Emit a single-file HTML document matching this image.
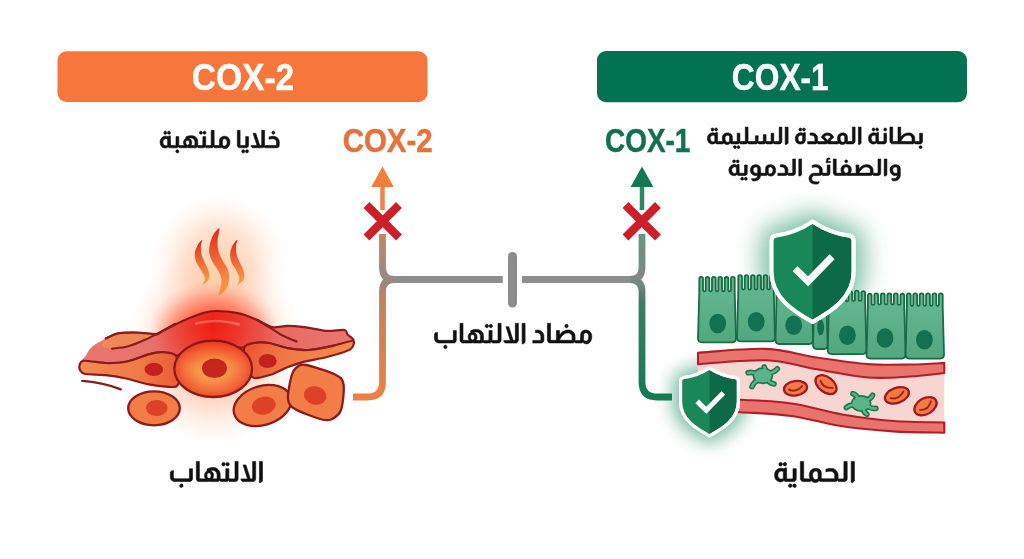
<!DOCTYPE html>
<html><head><meta charset="utf-8"><style>
html,body{margin:0;padding:0;background:#fff;}
body{width:1024px;height:559px;overflow:hidden;}
svg{display:block;}
text{font-family:"Liberation Sans",sans-serif;font-weight:bold;}
</style></head><body>
<svg width="1024" height="559" viewBox="0 0 1024 559">
<defs>
  <filter id="blur1" x="-60%" y="-60%" width="220%" height="220%"><feGaussianBlur stdDeviation="11"/></filter>
  <filter id="blur2" x="-60%" y="-60%" width="220%" height="220%"><feGaussianBlur stdDeviation="8"/></filter>
  <radialGradient id="gGlowBig" cx="0.5" cy="0.5" r="0.5">
    <stop offset="0" stop-color="#ff6a3a" stop-opacity="0.8"/>
    <stop offset="0.45" stop-color="#ff9060" stop-opacity="0.5"/>
    <stop offset="0.75" stop-color="#ffb890" stop-opacity="0.25"/>
    <stop offset="1" stop-color="#ffd8c0" stop-opacity="0"/>
  </radialGradient>
  <radialGradient id="gGlowFlame" cx="0.5" cy="0.5" r="0.5">
    <stop offset="0" stop-color="#ffcf9a" stop-opacity="0.85"/>
    <stop offset="0.5" stop-color="#ffc4a0" stop-opacity="0.5"/>
    <stop offset="1" stop-color="#ffe2d2" stop-opacity="0"/>
  </radialGradient>
  <radialGradient id="gGlowCore" cx="0.5" cy="0.5" r="0.5">
    <stop offset="0" stop-color="#ff2a12" stop-opacity="0.9"/>
    <stop offset="0.5" stop-color="#ff5a36" stop-opacity="0.5"/>
    <stop offset="1" stop-color="#ff8a60" stop-opacity="0"/>
  </radialGradient>
  <radialGradient id="gRedOver" cx="0.5" cy="0.5" r="0.5">
    <stop offset="0" stop-color="#ff2a10" stop-opacity="0.55"/>
    <stop offset="1" stop-color="#ff2a10" stop-opacity="0"/>
  </radialGradient>
  <linearGradient id="gFlame" x1="0" y1="0" x2="0" y2="1">
    <stop offset="0" stop-color="#e3261e"/>
    <stop offset="0.5" stop-color="#f06a3a"/>
    <stop offset="1" stop-color="#f9a84c"/>
  </linearGradient>
  <linearGradient id="gSheet" x1="83" y1="0" x2="353" y2="0" gradientUnits="userSpaceOnUse">
    <stop offset="0" stop-color="#e8756e"/>
    <stop offset="0.25" stop-color="#e8736c"/>
    <stop offset="0.48" stop-color="#f0382a"/>
    <stop offset="0.72" stop-color="#e86a63"/>
    <stop offset="1" stop-color="#e8776f"/>
  </linearGradient>
  <linearGradient id="gElongL" x1="80" y1="0" x2="180" y2="0" gradientUnits="userSpaceOnUse">
    <stop offset="0" stop-color="#f58a52"/>
    <stop offset="0.6" stop-color="#f07a46"/>
    <stop offset="1" stop-color="#ec5a36"/>
  </linearGradient>
  <linearGradient id="gElongR" x1="245" y1="0" x2="353" y2="0" gradientUnits="userSpaceOnUse">
    <stop offset="0" stop-color="#ee5a38"/>
    <stop offset="0.4" stop-color="#f07a46"/>
    <stop offset="1" stop-color="#f5884f"/>
  </linearGradient>
  <radialGradient id="gBigCell" cx="0.5" cy="0.5" r="0.5">
    <stop offset="0" stop-color="#fbb04e"/>
    <stop offset="0.45" stop-color="#f89048"/>
    <stop offset="0.8" stop-color="#f2683a"/>
    <stop offset="1" stop-color="#ec4a2c"/>
  </radialGradient>
  <linearGradient id="gCell" x1="0" y1="0" x2="0" y2="1">
    <stop offset="0" stop-color="#66ba93"/>
    <stop offset="1" stop-color="#52a77f"/>
  </linearGradient>
  <radialGradient id="gGreenGlow" cx="0.5" cy="0.5" r="0.5">
    <stop offset="0" stop-color="#4fae84" stop-opacity="0.9"/>
    <stop offset="0.5" stop-color="#8fcbb0" stop-opacity="0.55"/>
    <stop offset="0.8" stop-color="#c9e6d8" stop-opacity="0.25"/>
    <stop offset="1" stop-color="#e6f4ee" stop-opacity="0"/>
  </radialGradient>
  <linearGradient id="gLineL" x1="0" y1="234" x2="0" y2="397" gradientUnits="userSpaceOnUse">
    <stop offset="0" stop-color="#c0866a"/>
    <stop offset="0.276" stop-color="#968a86"/>
    <stop offset="0.42" stop-color="#c4815f"/>
    <stop offset="1" stop-color="#ef7f45"/>
  </linearGradient>
  <linearGradient id="gLineR" x1="0" y1="234" x2="0" y2="397" gradientUnits="userSpaceOnUse">
    <stop offset="0" stop-color="#6a9581"/>
    <stop offset="0.276" stop-color="#808985"/>
    <stop offset="0.42" stop-color="#3f7d63"/>
    <stop offset="1" stop-color="#137a52"/>
  </linearGradient>
</defs>

<!-- headers -->
<rect x="57.5" y="51.3" width="370" height="50.7" rx="9" fill="#f7763c"/>
<text x="243" y="89.5" font-size="37.2" fill="#ffffff" stroke="#ffffff" stroke-width="0.4" text-anchor="middle" textLength="102.6" lengthAdjust="spacingAndGlyphs">COX-2</text>
<rect x="597" y="51" width="370" height="51.2" rx="9" fill="#037252"/>
<text x="780.3" y="89.5" font-size="37.2" fill="#ffffff" stroke="#ffffff" stroke-width="0.4" text-anchor="middle" textLength="96.9" lengthAdjust="spacingAndGlyphs">COX-1</text>

<!-- sub labels -->
<text x="387.7" y="151.8" font-size="32.5" fill="#e8703a" stroke="#e8703a" stroke-width="0.45" text-anchor="middle" textLength="90" lengthAdjust="spacingAndGlyphs">COX-2</text>
<text x="647.7" y="151.8" font-size="32.5" fill="#12704f" stroke="#12704f" stroke-width="0.45" text-anchor="middle" textLength="85.4" lengthAdjust="spacingAndGlyphs">COX-1</text>

<!-- arabic labels -->
<g fill="#111111" stroke="#111111" stroke-width="0.6" stroke-linejoin="round">
<path role="img" aria-label="خلايا ملتهبة" d="M246.6 149.8L245.7 150.4L245.5 150.8L245.5 151.9L246.3 152.8L247.3 152.9L248.2 152.3L248.5 151.3L248.4 150.8L247.8 150.0L247.4 149.8ZM242.8 149.8L241.9 150.5L241.7 151.7L241.9 152.2L242.4 152.7L243.5 152.9L244.1 152.7L244.6 152.2L244.8 151.8L244.8 150.9L244.3 150.1L243.7 149.8ZM176.9 149.8L176.0 150.5L175.8 151.2L175.9 151.9L176.5 152.7L177.7 152.9L178.4 152.5L178.7 152.1L178.8 150.9L178.2 150.0L177.7 149.8ZM273.0 131.2L272.1 131.8L271.9 132.2L271.9 133.2L272.5 134.1L273.7 134.3L274.3 134.0L274.7 133.4L274.8 132.2L274.3 131.5L273.7 131.2ZM204.2 131.2L203.7 131.4L203.2 131.9L203.0 132.3L203.0 133.1L203.7 134.1L204.1 134.3L204.8 134.3L205.3 134.1L205.8 133.5L206.0 132.4L205.8 131.9L205.3 131.4ZM200.5 131.2L200.0 131.4L199.5 131.9L199.3 133.0L200.0 134.1L201.2 134.3L201.8 134.0L202.2 133.4L202.3 132.2L201.8 131.5L201.2 131.2ZM168.6 131.2L167.7 131.8L167.4 132.7L167.5 133.2L168.1 134.1L169.3 134.3L169.9 134.0L170.3 133.4L170.4 132.2L169.9 131.5L169.3 131.2ZM164.9 131.2L164.3 131.5L163.9 132.0L163.8 133.1L164.1 133.8L164.6 134.2L165.6 134.3L166.1 134.1L166.6 133.5L166.8 132.4L166.6 131.9L166.1 131.4ZM253.0 133.3L257.0 145.4L251.1 145.5L251.2 146.5L252.3 147.8L262.3 147.8L263.4 147.4L264.1 146.8L264.9 147.8L277.1 147.8L278.2 147.4L278.9 146.7L279.2 146.1L279.3 141.4L278.8 139.6L277.9 138.3L277.0 137.5L275.7 136.7L274.1 136.3L272.0 136.3L269.1 136.9L269.0 139.3L271.6 138.8L273.2 138.8L274.3 139.1L275.2 139.6L276.1 140.6L276.5 141.9L276.5 145.0L276.2 145.4L264.7 145.5L264.5 145.3L264.6 130.3L261.7 130.3L261.7 145.1L261.0 145.5L259.9 145.5L259.6 145.1L255.8 133.3ZM237.3 130.3L237.3 145.6L237.5 146.3L238.2 147.2L239.4 147.8L246.4 147.8L247.4 147.4L248.2 146.5L248.5 145.6L248.5 136.6L245.7 136.6L245.7 145.0L245.0 145.5L240.5 145.4L240.1 144.9L240.1 130.3ZM229.9 141.0L229.2 138.9L228.8 138.3L227.4 137.0L225.2 136.3L223.6 136.3L222.7 136.5L220.8 137.6L220.0 138.7L219.5 140.2L219.5 145.0L218.8 145.5L214.2 145.5L214.1 130.3L211.2 130.3L211.2 145.1L210.5 145.5L205.7 145.4L205.7 136.6L202.9 136.6L202.8 145.0L202.1 145.5L198.0 145.5L197.8 145.3L197.8 141.2L197.5 139.8L196.9 138.5L196.4 137.8L195.0 136.6L194.0 136.1L192.3 135.7L189.9 135.7L188.6 135.9L185.9 136.8L185.9 138.5L184.3 139.8L183.5 141.5L183.5 143.6L184.3 145.3L184.2 145.5L179.0 145.5L178.8 145.3L178.8 136.6L176.0 136.6L176.0 144.9L175.6 145.4L171.1 145.5L170.5 145.1L170.4 135.9L169.1 135.9L168.0 136.7L166.4 136.2L164.7 136.2L162.9 136.8L161.3 138.3L160.5 139.7L160.1 141.6L160.1 142.8L160.6 145.0L161.4 146.3L162.7 147.4L163.6 147.8L164.7 148.1L166.6 147.8L168.2 146.9L168.8 147.4L169.7 147.8L176.8 147.8L177.4 147.6L178.3 146.8L179.3 147.8L186.6 147.8L187.6 147.5L188.6 147.8L195.7 147.8L196.6 147.5L197.4 146.8L198.2 147.8L203.6 147.8L204.6 147.4L205.2 146.8L206.1 147.8L212.0 147.8L212.8 147.5L213.6 146.8L214.5 147.8L220.3 147.8L221.3 147.4L221.7 147.0L222.6 148.0L223.4 148.4L225.5 148.6L226.9 148.2L227.7 147.6L229.0 146.1L229.8 144.0ZM187.1 140.2L188.1 140.2L188.5 140.4L189.0 141.0L189.4 142.0L189.4 143.2L189.1 144.1L188.6 144.8L187.7 145.2L186.9 145.0L186.2 144.2L185.8 143.2L185.8 142.0L186.0 141.3L186.7 140.4ZM224.1 138.7L225.2 138.8L225.8 139.1L226.7 140.1L227.1 141.5L227.1 143.3L226.8 144.5L225.7 145.8L225.0 146.1L223.6 146.0L222.4 145.1L222.5 140.1L223.2 139.1ZM165.4 138.7L166.4 138.7L167.6 139.1L167.6 145.3L166.3 145.7L165.2 145.7L164.1 145.2L163.2 143.9L162.9 142.6L163.0 141.3L163.3 140.3L164.4 139.1ZM188.5 138.2L189.4 138.0L191.8 138.1L193.1 138.6L194.0 139.4L194.5 140.2L194.9 141.8L194.9 145.0L194.7 145.3L194.2 145.5L191.0 145.4L191.7 143.4L191.7 141.7L191.5 140.9L190.9 139.7L190.4 139.2L189.2 138.5L188.5 138.4Z"/>
<path role="img" aria-label="بطانة المعدة السليمة" d="M920.1 145.7L919.4 146.1L919.1 146.6L919.1 147.8L919.7 148.4L920.9 148.6L921.8 148.0L922.0 147.6L922.0 146.8L921.4 145.9L920.9 145.7ZM738.1 145.7L737.2 146.4L737.0 147.1L737.1 147.7L737.7 148.4L738.8 148.6L739.5 148.2L739.8 147.9L739.9 146.8L739.3 145.9L738.8 145.7ZM734.5 145.7L733.7 146.3L733.5 146.7L733.5 147.7L734.3 148.5L735.2 148.6L735.7 148.4L736.2 148.0L736.4 147.0L736.2 146.4L735.7 145.9L735.3 145.7ZM868.8 136.1L868.5 137.9L868.5 139.1L868.9 141.1L869.4 142.0L870.3 143.0L871.9 143.9L872.9 144.0L874.4 143.9L875.1 143.8L876.4 143.0L876.9 143.5L877.8 143.9L884.5 143.9L885.5 143.5L886.4 142.4L886.6 141.8L886.6 133.2L883.9 133.2L883.9 141.1L883.2 141.6L879.2 141.6L878.6 141.2L878.5 132.5L877.2 132.5L876.2 133.3L874.6 132.8L872.9 132.8L871.6 133.2L870.5 133.9L869.6 134.8ZM873.6 135.2L874.6 135.2L875.8 135.5L875.8 141.4L874.5 141.8L873.4 141.8L872.4 141.3L871.5 140.1L871.2 138.9L871.3 137.6L871.6 136.7L872.6 135.5ZM805.3 132.5L804.0 132.5L803.1 133.3L801.4 132.8L800.0 132.8L799.2 133.0L797.7 133.7L796.3 135.1L795.5 137.0L795.3 138.6L795.4 139.8L796.1 141.9L797.1 143.0L798.8 143.9L801.2 144.0L803.2 143.6L804.4 142.6L805.1 141.4L805.4 139.9ZM801.5 135.2L802.6 135.5L802.6 140.3L802.4 140.8L801.7 141.5L800.5 141.8L799.8 141.7L799.1 141.3L798.3 140.2L798.0 138.7L798.2 137.3L798.5 136.6L799.4 135.6L800.4 135.2ZM884.9 128.0L884.4 128.2L884.0 128.7L883.8 129.8L884.0 130.3L884.4 130.8L884.8 131.0L885.5 131.0L886.0 130.8L886.5 130.3L886.7 129.2L886.5 128.7L886.0 128.2ZM876.7 128.0L875.9 128.6L875.6 129.5L875.7 130.0L876.3 130.8L877.4 131.0L878.0 130.7L878.4 130.2L878.5 129.0L878.0 128.3L877.4 128.0ZM873.1 128.0L872.6 128.3L872.2 128.8L872.1 129.9L872.4 130.5L872.8 130.9L873.8 131.0L874.3 130.8L874.8 130.3L875.0 129.2L874.8 128.7L874.3 128.2ZM803.5 128.0L802.7 128.6L802.4 129.5L802.5 130.0L803.1 130.8L804.2 131.0L805.1 130.4L805.4 129.5L805.3 129.0L804.7 128.2ZM800.0 128.0L799.6 128.2L799.1 128.7L798.9 129.1L798.9 129.9L799.6 130.8L799.9 131.0L800.6 131.0L801.1 130.8L801.6 130.3L801.8 129.2L801.6 128.7L801.1 128.2ZM715.7 128.0L714.9 128.6L714.6 129.5L714.7 130.0L715.2 130.8L716.4 131.0L717.0 130.7L717.4 130.2L717.5 129.0L717.0 128.3L716.4 128.0ZM712.1 128.0L711.5 128.3L711.2 128.8L711.1 129.9L711.3 130.5L711.8 130.9L712.8 131.0L713.3 130.8L713.8 130.3L714.0 129.2L713.8 128.7L713.3 128.2ZM889.9 127.1L889.9 141.4L890.3 142.7L891.1 143.5L891.7 143.8L912.8 143.9L913.4 143.7L914.3 142.9L915.1 143.9L920.4 143.9L921.5 143.4L922.3 142.3L922.5 141.2L922.5 133.2L919.6 133.2L919.6 141.2L918.9 141.6L914.9 141.6L914.8 141.4L914.8 137.7L914.2 135.9L912.9 134.4L912.1 133.8L910.6 133.1L909.5 132.9L907.5 132.9L905.2 133.5L902.7 135.1L900.8 137.1L900.7 127.1L898.0 127.1L898.0 141.5L893.1 141.5L892.7 141.2L892.7 127.1ZM912.0 138.3L912.0 141.1L911.7 141.5L900.8 141.5L901.5 139.9L902.9 138.0L904.4 136.5L906.2 135.5L907.5 135.3L908.7 135.3L909.8 135.5L910.7 136.0L911.5 136.9ZM861.1 127.1L858.4 127.1L858.4 144.4L859.7 144.4L861.1 143.3ZM855.1 127.1L852.4 127.1L852.4 141.0L852.0 141.5L847.8 141.5L847.5 141.2L847.4 136.1L846.7 134.6L845.9 133.8L844.8 133.2L843.6 132.9L841.9 132.9L840.7 133.2L839.4 133.9L838.4 134.9L838.0 135.6L837.5 137.2L837.5 139.7L838.0 141.3L837.9 141.6L830.3 141.6L830.2 141.2L830.9 139.8L832.2 138.6L833.4 137.9L833.6 137.0L832.8 135.5L831.3 134.1L829.3 133.1L826.8 132.9L825.0 133.4L823.3 134.4L822.2 135.6L821.4 137.1L821.6 137.8L822.9 138.7L824.1 139.9L824.8 141.1L824.8 141.6L817.8 141.6L817.6 141.4L817.6 137.5L817.2 136.1L816.5 135.0L815.2 133.8L814.3 133.3L812.8 132.9L810.1 133.0L810.1 135.2L811.9 135.2L812.7 135.4L813.7 135.9L814.4 136.7L814.9 138.2L814.9 141.1L814.6 141.5L814.2 141.6L807.6 141.6L807.6 143.9L815.6 143.9L816.5 143.5L817.1 142.9L818.0 143.9L826.5 143.9L826.8 143.8L827.4 143.3L828.5 143.9L838.2 143.9L838.9 143.1L840.2 144.0L841.8 144.5L843.8 144.3L844.7 143.9L845.5 143.1L845.8 143.5L846.8 143.9L853.0 143.9L853.6 143.7L854.7 142.7L855.1 141.6ZM842.2 135.2L843.2 135.2L843.9 135.5L844.7 136.6L844.7 141.3L843.3 142.2L842.1 142.2L841.3 141.7L840.8 141.1L840.2 139.6L840.2 137.6L840.5 136.6L841.4 135.5ZM827.5 135.2L828.7 135.4L829.6 135.7L830.7 137.0L829.9 137.6L828.9 138.6L828.0 139.8L827.5 140.9L826.3 138.8L824.3 137.0L825.5 135.7L826.6 135.3ZM788.1 127.1L785.2 127.1L785.2 144.4L786.6 144.4L788.1 143.3ZM781.9 127.1L779.2 127.1L779.2 141.1L778.5 141.6L774.0 141.6L773.8 141.4L773.8 133.2L771.1 133.2L771.1 141.1L770.6 141.5L766.1 141.5L766.0 134.6L763.3 134.6L763.3 141.0L762.9 141.5L758.3 141.6L758.1 141.4L758.2 135.8L755.4 135.8L755.4 141.2L755.1 141.5L748.1 141.6L748.0 127.1L745.3 127.1L745.3 141.1L744.6 141.6L740.1 141.6L739.9 141.4L739.9 133.2L737.2 133.2L737.2 141.0L736.8 141.5L736.4 141.6L733.2 141.6L732.4 141.3L732.3 136.4L732.0 135.4L731.4 134.4L730.6 133.7L728.4 132.9L726.8 132.9L725.3 133.3L724.0 134.1L723.1 135.1L722.7 136.0L722.3 137.6L722.3 139.4L722.8 141.2L722.7 141.6L718.2 141.6L717.6 141.2L717.5 132.5L716.2 132.5L715.1 133.3L713.6 132.8L711.9 132.8L710.6 133.2L709.9 133.6L708.6 134.8L707.8 136.1L707.4 137.9L707.5 139.8L708.2 141.7L709.3 143.0L710.4 143.7L711.9 144.0L713.8 143.9L715.3 143.0L715.9 143.5L716.8 143.9L723.0 143.9L723.8 143.1L724.3 143.6L725.5 144.2L726.6 144.5L727.8 144.5L729.1 144.1L730.3 143.2L731.6 143.9L738.0 143.9L738.5 143.7L739.4 142.9L740.4 143.9L746.0 143.9L746.6 143.7L747.5 142.9L748.5 143.9L756.2 143.9L757.0 143.6L757.7 142.9L758.5 143.9L764.1 143.9L765.0 143.5L765.5 142.9L766.3 143.9L771.9 143.9L772.5 143.7L773.3 142.9L774.2 143.9L779.8 143.9L780.9 143.4L781.6 142.6L781.9 141.7ZM727.0 135.2L728.0 135.2L728.7 135.5L729.3 136.0L729.6 136.8L729.6 141.2L729.1 141.7L728.1 142.2L726.9 142.2L726.4 141.9L725.6 141.0L725.0 139.3L725.0 137.9L725.4 136.5L726.4 135.5ZM712.6 135.2L713.6 135.2L714.8 135.5L714.8 141.4L713.5 141.8L712.4 141.8L711.3 141.3L710.5 140.1L710.2 138.9L710.3 137.6L710.6 136.7L711.6 135.5Z"/>
<path role="img" aria-label="والصفائح الدموية" d="M745.4 177.3L744.9 177.5L744.4 178.0L744.3 179.1L745.0 180.0L745.4 180.2L746.1 180.2L746.6 180.0L747.1 179.5L747.3 178.5L746.9 177.7L746.2 177.3ZM741.8 177.3L740.9 178.0L740.7 178.6L740.8 179.2L741.4 180.0L742.6 180.2L743.2 179.9L743.6 179.4L743.7 178.3L743.1 177.5L742.6 177.3ZM897.0 164.8L894.3 164.7L892.5 165.4L891.0 166.7L890.4 167.8L890.1 168.8L890.0 170.1L890.2 171.6L890.8 173.0L891.8 174.3L892.8 175.1L894.2 175.5L895.6 175.6L897.0 175.4L897.4 175.5L897.0 176.9L895.6 178.2L893.6 178.7L891.8 178.6L891.8 179.6L892.9 180.9L895.2 180.8L897.5 180.1L899.1 178.7L899.8 177.6L900.1 176.6L900.3 175.1L900.3 168.7L900.1 167.5L899.5 166.3L898.7 165.5ZM894.6 167.0L896.2 167.0L896.6 167.2L897.3 168.0L897.4 173.0L897.2 173.1L896.2 173.3L894.8 173.2L894.0 172.9L893.0 171.6L892.8 170.1L892.9 168.7L893.3 168.0L894.0 167.3ZM830.0 165.0L827.2 165.0L827.2 172.8L826.5 173.2L822.3 173.1L822.3 169.6L822.0 168.3L821.1 166.8L819.3 165.4L817.0 164.7L814.4 164.8L812.2 165.3L812.1 167.5L814.7 167.0L816.1 167.0L817.8 167.5L818.9 168.5L819.3 169.3L819.5 170.3L819.5 172.7L819.3 173.0L818.8 173.2L814.0 173.2L812.9 173.4L811.4 174.0L809.9 175.4L809.1 177.2L809.0 178.9L809.4 180.6L810.3 182.1L811.1 182.9L812.3 183.5L814.5 184.1L817.0 184.1L818.0 183.9L819.1 182.5L819.1 181.5L817.3 181.9L814.8 181.8L813.2 181.2L812.3 180.5L811.9 179.7L811.7 178.5L811.9 177.3L812.2 176.7L813.0 175.9L813.6 175.6L814.5 175.5L820.1 175.5L821.2 175.1L821.8 174.5L822.7 175.5L828.0 175.5L828.9 175.1L829.6 174.4L830.0 173.5ZM750.5 168.9L750.4 170.2L750.6 171.7L751.1 173.0L751.9 174.1L752.8 174.8L754.3 175.4L757.8 175.5L757.2 177.2L756.0 178.2L754.3 178.7L752.6 178.7L751.6 178.5L751.6 179.5L752.8 180.9L755.1 180.9L756.5 180.6L758.1 180.0L759.5 178.6L760.3 177.0L760.6 175.5L766.2 175.5L767.6 174.8L768.6 175.6L769.6 176.0L771.3 176.1L772.5 175.8L773.5 175.3L774.9 173.5L775.5 172.0L775.7 170.5L775.4 168.1L774.6 166.6L773.4 165.5L772.4 165.0L771.0 164.7L769.5 164.7L768.2 165.0L767.0 165.5L766.2 166.3L765.6 167.9L765.5 172.9L764.8 173.2L760.6 173.1L760.6 168.7L760.2 167.0L759.0 165.5L757.4 164.8L754.7 164.7L752.8 165.4L752.2 165.7L751.2 167.0ZM769.9 166.9L771.0 167.0L771.9 167.5L772.4 168.0L772.9 169.3L773.0 170.5L772.7 172.1L771.8 173.3L770.8 173.8L769.4 173.7L768.3 173.0L768.3 168.3L768.5 167.9L769.2 167.2ZM755.0 167.0L756.6 167.0L757.1 167.3L757.7 168.0L757.7 173.2L756.2 173.2L754.8 173.0L753.8 172.2L753.3 171.3L753.1 170.1L753.3 168.7L753.7 168.0L754.4 167.3ZM729.3 167.9L728.9 169.6L728.9 170.7L729.4 172.8L729.9 173.6L730.8 174.6L732.4 175.5L733.5 175.6L735.0 175.5L735.7 175.4L736.9 174.6L737.5 175.1L738.4 175.5L745.3 175.5L746.2 175.1L746.9 174.4L747.2 173.8L747.3 165.0L744.5 165.0L744.5 172.8L743.8 173.2L739.8 173.2L739.2 172.9L739.1 164.3L737.8 164.3L736.7 165.1L735.2 164.6L733.5 164.6L732.1 165.0L731.0 165.6L730.1 166.5ZM734.2 166.9L735.2 166.9L736.4 167.3L736.4 173.0L735.1 173.4L734.0 173.4L732.9 173.0L732.0 171.8L731.7 170.5L731.8 169.3L732.1 168.4L733.2 167.3ZM845.9 159.9L845.4 160.1L844.9 160.5L844.7 161.6L845.4 162.6L846.6 162.8L847.5 162.1L847.7 161.7L847.7 160.9L847.0 160.1ZM737.3 159.9L736.4 160.5L736.2 161.3L736.3 161.8L736.8 162.6L738.0 162.8L738.6 162.5L739.0 162.0L739.1 160.8L738.6 160.2L738.0 159.9ZM733.7 159.9L733.1 160.2L732.7 160.6L732.6 161.7L732.9 162.3L733.4 162.7L734.4 162.8L734.9 162.6L735.4 162.1L735.6 161.0L735.4 160.5L734.9 160.1ZM886.9 159.0L884.2 159.0L884.2 176.0L885.5 176.0L886.9 174.9ZM833.3 159.0L833.3 173.0L833.7 174.3L834.5 175.1L835.1 175.4L844.9 175.5L846.3 175.2L847.4 175.5L871.0 175.5L871.8 175.2L872.6 174.5L873.4 175.5L878.6 175.5L879.8 175.0L880.5 174.2L880.7 173.7L880.8 159.0L878.0 159.0L878.0 172.8L877.4 173.2L873.2 173.2L873.1 169.8L872.9 168.7L872.4 167.6L872.0 167.0L870.5 165.6L869.4 165.1L867.9 164.7L865.7 164.7L863.3 165.3L861.2 166.5L859.0 168.7L858.9 165.0L856.0 165.0L856.1 173.0L855.9 173.2L850.4 173.2L850.3 173.0L851.1 171.6L851.4 169.8L851.1 168.0L850.5 166.8L849.4 165.6L848.0 164.9L847.3 164.7L845.1 164.7L844.3 164.9L843.1 165.5L842.3 166.1L841.6 167.1L841.1 168.2L840.9 169.4L841.0 170.9L841.3 172.0L841.9 173.1L836.9 173.2L836.2 172.9L836.2 159.0ZM870.2 169.3L870.3 172.9L870.0 173.1L858.9 173.1L859.5 171.8L860.8 170.0L862.6 168.3L864.4 167.3L865.6 167.0L867.0 167.0L868.1 167.3L868.9 167.7L869.7 168.4ZM845.7 166.9L846.6 166.9L847.5 167.3L848.2 168.2L848.5 169.2L848.5 170.7L848.2 171.7L847.5 172.7L846.4 173.1L845.3 173.0L844.3 172.1L843.9 171.3L843.7 170.3L843.8 169.0L844.3 167.9L844.9 167.3ZM801.6 159.0L798.8 159.0L798.8 176.0L800.2 176.0L801.6 174.9ZM795.5 159.0L792.7 159.0L792.7 172.7L792.3 173.1L788.1 173.2L787.9 173.0L787.9 169.2L787.5 167.9L786.8 166.7L785.5 165.5L784.5 165.1L783.0 164.7L780.3 164.8L780.3 166.9L782.1 166.9L782.9 167.1L783.9 167.7L784.6 168.4L785.1 169.9L785.1 172.8L784.8 173.1L784.4 173.2L777.8 173.2L777.8 175.5L785.9 175.5L786.8 175.1L787.4 174.5L788.3 175.5L793.3 175.5L794.5 175.0L795.1 174.3L795.5 173.2ZM829.8 158.1L828.2 158.0L827.4 158.3L827.0 158.7L826.6 159.5L826.6 160.7L826.9 161.4L826.0 161.5L826.0 162.7L830.3 162.6L830.7 162.1L830.7 161.5L828.8 161.5L828.0 160.7L828.0 160.0L828.4 159.4L828.8 159.2L829.9 159.3Z"/>
<path role="img" aria-label="مضاد الالتهاب" d="M444.9 345.2L443.8 346.3L443.8 347.7L444.5 348.5L445.8 348.7L446.4 348.4L446.8 347.8L447.0 346.4L446.3 345.5L445.8 345.2ZM456.3 330.4L453.3 330.4L453.3 339.6L452.8 340.3L438.9 340.3L437.7 339.2L437.5 338.6L437.5 332.4L436.0 332.4L434.5 333.7L434.5 339.1L435.1 340.8L436.1 342.0L438.2 343.0L454.5 342.9L455.8 341.9L456.3 340.5ZM535.5 330.2L535.5 332.7L537.6 332.7L538.5 333.0L539.6 333.7L540.3 334.6L540.9 336.3L540.9 339.8L540.5 340.3L540.1 340.4L532.8 340.4L532.8 343.0L541.6 343.0L542.7 342.6L543.4 341.9L543.9 340.7L543.9 335.5L543.2 333.2L541.7 331.5L540.2 330.5L538.6 330.1ZM566.1 324.3L565.1 325.0L564.9 325.5L564.9 326.6L565.8 327.7L566.9 327.8L567.8 327.1L568.2 326.2L568.0 325.3L567.4 324.5ZM490.4 324.3L489.9 324.5L489.3 325.1L489.1 326.4L489.9 327.5L491.2 327.8L492.2 327.0L492.4 326.5L492.4 325.6L491.6 324.5ZM486.4 324.3L485.4 325.0L485.1 326.0L485.2 326.6L485.9 327.5L487.2 327.8L488.2 327.1L488.5 325.9L488.2 325.0L487.7 324.5ZM547.4 323.3L547.4 340.1L547.8 341.7L548.7 342.6L549.4 342.9L572.9 343.0L573.6 342.8L574.6 341.9L575.5 343.0L581.3 343.0L582.4 342.6L582.8 342.1L583.8 343.2L584.7 343.6L587.0 343.9L588.5 343.4L589.4 342.8L590.5 341.4L591.4 339.6L591.7 338.1L591.7 335.3L591.3 333.7L590.5 332.3L589.8 331.5L588.4 330.5L586.6 330.1L584.9 330.1L583.3 330.5L582.3 331.1L581.3 332.2L580.7 333.8L580.5 339.8L579.8 340.4L575.3 340.4L575.1 340.1L575.0 335.2L574.7 334.1L573.8 332.6L572.5 331.4L571.1 330.5L569.4 330.1L567.0 330.1L564.5 330.8L562.9 331.6L561.6 332.6L559.6 335.1L559.5 330.4L556.4 330.4L556.4 340.3L551.0 340.3L550.5 339.9L550.5 323.3ZM571.9 335.5L572.1 336.4L572.1 339.8L571.7 340.3L559.6 340.3L560.1 338.8L561.3 336.8L563.3 334.7L565.3 333.3L567.0 332.9L568.5 332.9L569.4 333.1L570.8 333.9ZM585.4 332.7L586.6 332.9L587.3 333.2L588.3 334.4L588.7 335.9L588.7 338.0L588.4 339.2L587.2 340.7L586.4 341.1L584.9 341.0L583.6 339.9L583.7 334.4L584.5 333.2ZM525.1 323.3L522.1 323.3L522.1 343.7L523.6 343.7L525.1 342.3ZM518.4 323.3L515.3 323.3L515.3 339.6L514.9 340.3L513.3 340.4L513.0 340.1L508.8 326.7L506.0 326.7L510.2 340.1L510.0 340.4L503.9 340.4L503.9 341.4L505.1 343.0L515.9 343.0L516.7 342.8L517.9 341.7L518.4 340.4ZM460.0 323.3L460.0 340.5L460.7 342.0L461.6 342.8L462.3 343.0L471.4 343.0L472.6 342.7L473.6 343.0L481.3 343.0L482.2 342.7L483.0 341.9L483.9 343.0L489.9 343.0L490.5 342.8L491.5 341.9L492.5 343.0L498.7 343.0L500.0 342.5L500.9 341.2L501.1 340.4L501.1 323.3L498.0 323.3L498.0 339.7L497.6 340.3L497.2 340.4L492.1 340.3L492.1 330.4L489.0 330.4L488.9 339.9L488.2 340.4L483.7 340.4L483.5 340.1L483.5 335.5L483.2 334.0L482.5 332.5L482.0 331.7L480.5 330.4L479.5 329.9L477.6 329.4L475.0 329.4L473.6 329.6L470.7 330.7L470.7 332.5L468.9 334.0L468.2 335.9L468.2 338.3L468.9 340.1L468.8 340.4L463.5 340.3L463.0 339.7L463.0 323.3ZM472.0 334.5L473.0 334.5L473.5 334.7L474.0 335.3L474.5 336.4L474.5 337.8L474.1 338.9L473.6 339.6L472.6 340.0L471.7 339.8L471.0 339.0L470.5 337.8L470.5 336.4L470.8 335.6L471.5 334.7ZM473.5 332.2L474.5 331.9L477.1 332.1L478.5 332.6L479.5 333.6L480.0 334.5L480.4 336.2L480.4 339.8L480.2 340.1L479.7 340.4L476.2 340.3L477.0 338.1L477.0 336.1L476.7 335.2L476.1 333.9L475.5 333.3L474.2 332.5L473.5 332.4Z"/>
<path role="img" aria-label="الالتهاب" d="M180.9 483.9L179.8 485.0L179.8 486.4L180.4 487.2L181.8 487.5L182.4 487.1L182.9 486.5L183.0 485.1L182.3 484.1L181.8 483.9ZM192.5 468.7L189.4 468.7L189.4 478.1L189.0 478.8L174.8 478.8L173.6 477.7L173.4 477.1L173.4 470.7L171.8 470.7L170.3 472.0L170.3 477.6L170.9 479.4L171.9 480.6L174.0 481.6L190.6 481.5L191.9 480.5L192.5 479.0ZM227.2 462.4L226.7 462.7L226.1 463.3L225.9 464.6L226.7 465.7L228.0 466.0L229.0 465.2L229.2 464.7L229.2 463.7L228.5 462.7ZM223.2 462.4L222.2 463.1L221.8 464.2L221.9 464.8L222.6 465.7L223.9 466.0L224.9 465.3L225.3 464.1L224.9 463.1L224.5 462.7ZM262.5 461.4L259.4 461.4L259.4 482.4L261.0 482.4L262.5 480.9ZM255.7 461.4L252.6 461.4L252.6 478.1L252.1 478.8L250.5 478.9L250.3 478.7L245.9 464.9L243.1 464.9L247.4 478.7L247.2 478.9L241.0 478.9L241.0 480.0L242.2 481.6L253.1 481.6L254.0 481.4L255.2 480.2L255.7 478.9ZM196.3 461.4L196.3 479.0L196.9 480.6L197.9 481.4L198.6 481.6L207.9 481.6L209.1 481.3L210.1 481.6L217.9 481.6L218.8 481.3L219.7 480.5L220.6 481.6L226.7 481.6L227.4 481.4L228.4 480.5L229.3 481.6L235.7 481.6L237.0 481.0L237.9 479.7L238.1 478.9L238.1 461.4L235.0 461.4L235.0 478.2L234.5 478.8L234.1 478.9L228.9 478.8L228.9 468.7L225.8 468.7L225.7 478.4L224.9 478.9L220.4 478.9L220.2 478.7L220.2 473.9L219.8 472.4L219.2 470.8L218.6 470.0L217.2 468.7L216.1 468.1L214.2 467.6L211.5 467.6L210.1 467.9L207.1 468.9L207.1 470.8L205.3 472.4L204.6 474.3L204.6 476.8L205.3 478.7L205.2 478.9L199.8 478.8L199.4 478.2L199.4 461.4ZM208.4 472.9L209.5 472.9L210.0 473.1L210.5 473.7L211.0 474.9L211.0 476.3L210.6 477.4L210.1 478.1L209.1 478.6L208.2 478.3L207.4 477.5L207.0 476.3L207.0 474.9L207.2 474.1L208.0 473.1ZM210.0 470.5L211.0 470.3L213.6 470.4L215.1 471.0L216.1 471.9L216.6 472.9L217.1 474.6L217.1 478.3L216.8 478.7L216.3 478.9L212.7 478.8L213.5 476.5L213.5 474.5L213.3 473.6L212.6 472.3L212.1 471.7L210.8 470.8L210.0 470.7Z"/>
<path role="img" aria-label="الحماية" d="M794.1 483.9L793.5 484.1L792.9 484.8L792.8 486.1L793.6 487.2L794.1 487.5L794.9 487.5L795.5 487.2L796.1 486.6L796.3 485.4L795.8 484.4L795.0 483.9ZM789.8 483.9L788.7 484.7L788.5 485.6L788.6 486.3L789.3 487.2L790.7 487.5L791.4 487.1L791.9 486.5L792.0 485.2L791.3 484.1L790.7 483.9ZM775.0 472.3L774.6 474.4L774.6 475.8L775.1 478.3L775.7 479.4L776.8 480.6L778.7 481.6L779.9 481.9L781.7 481.8L782.5 481.5L784.0 480.6L784.7 481.2L785.8 481.6L794.0 481.6L795.0 481.2L795.8 480.3L796.2 479.6L796.3 468.7L793.0 468.7L793.0 478.3L792.2 478.9L787.4 478.9L786.7 478.4L786.6 467.9L785.1 467.9L783.8 468.8L781.9 468.2L779.9 468.2L778.3 468.7L777.0 469.5L776.0 470.6ZM780.8 471.1L781.9 471.1L783.3 471.6L783.3 478.7L781.8 479.1L780.5 479.1L779.2 478.6L778.2 477.1L777.8 475.6L778.0 474.1L778.3 473.0L779.6 471.6ZM784.5 462.4L783.4 463.1L783.1 464.2L783.2 464.8L783.9 465.7L785.3 466.0L786.0 465.6L786.5 465.0L786.6 463.6L786.0 462.8L785.3 462.4ZM780.2 462.4L779.5 462.8L779.0 463.4L778.9 464.7L779.2 465.4L779.8 465.9L781.0 466.0L781.6 465.7L782.2 465.2L782.4 463.9L782.2 463.3L781.6 462.7ZM854.4 461.4L851.2 461.4L851.2 482.4L852.8 482.4L854.4 480.9ZM800.4 461.4L800.4 479.3L800.9 480.3L802.2 481.4L802.9 481.6L810.3 481.6L811.2 480.7L812.5 481.8L813.5 482.2L816.0 482.5L817.7 481.9L818.9 480.8L820.6 481.6L835.6 481.6L836.5 481.3L837.5 480.5L838.4 481.6L844.6 481.6L846.0 481.0L847.0 479.9L847.2 479.0L847.2 461.4L843.9 461.4L843.9 478.3L843.1 478.9L838.2 478.9L838.0 473.9L837.2 471.9L836.4 470.7L834.9 469.4L833.0 468.6L831.6 468.4L828.7 468.5L825.9 469.2L825.9 471.8L829.1 471.2L830.9 471.2L831.9 471.4L833.2 472.2L834.1 473.2L834.7 474.6L834.7 478.4L834.3 478.8L821.8 478.8L821.3 478.1L821.3 472.4L821.0 471.2L819.7 469.5L818.4 468.8L816.8 468.4L814.8 468.4L813.3 468.7L811.8 469.5L810.5 470.8L809.8 472.2L809.3 474.4L809.4 476.8L810.0 478.7L809.8 478.9L804.1 478.8L803.7 478.3L803.7 461.4ZM815.1 471.1L816.9 471.3L817.5 471.8L818.1 473.0L818.1 478.6L817.4 479.1L816.3 479.6L814.9 479.6L814.1 479.1L813.4 478.3L812.7 476.5L812.6 474.8L812.9 473.1L814.1 471.6Z"/>
</g>

<!-- arrows -->
<path d="M382.5 186V210" stroke="#e9864e" stroke-width="4.5"/>
<path d="M382.5 166.6L393.7 187L371.3 187Z" fill="#ef7e3f"/>
<path d="M642 186V210" stroke="#2f8462" stroke-width="4.5"/>
<path d="M642 166.6L653.4 187L630.6 187Z" fill="#117a52"/>

<ellipse cx="812" cy="262" rx="84" ry="76" fill="url(#gGreenGlow)" opacity="0.6"/>
<ellipse cx="709" cy="402" rx="58" ry="58" fill="url(#gGreenGlow)" opacity="0.6"/>
<path d="M812.6 212.0Q790.6 226.4 767.1 228.8Q762.6 230.0 762.6 234.5L762.6 272.0C762.6 303.2 790.6 320.0 812.6 332.0C834.6 320.0 862.6 303.2 862.6 272.0L862.6 234.5Q862.6 230.0 858.1 228.8Q834.6 226.4 812.6 212.0Z" fill="#3d9f76" filter="url(#blur1)" opacity="0.55"/>
<path d="M709.5 361.0Q693.7 371.0 676.7 372.6Q673.5 373.4 673.5 376.7L673.5 402.5C673.5 424.1 693.7 435.7 709.5 444.0C725.3 435.7 745.5 424.1 745.5 402.5L745.5 376.7Q745.5 373.4 742.3 372.6Q725.3 371.0 709.5 361.0Z" fill="#3d9f76" filter="url(#blur2)" opacity="0.55"/>
<!-- connector -->
<path d="M382.5 234V267.5Q382.5 279.5 394 279.5H502.5" fill="none" stroke="url(#gLineL)" stroke-width="6.8"/>
<path d="M394 279.5Q382.5 279.5 382.5 291.5V382Q382.5 397 367.5 397H353" fill="none" stroke="url(#gLineL)" stroke-width="6.8"/>
<path d="M522 279.5H630Q642 279.5 642 267.5V234" fill="none" stroke="url(#gLineR)" stroke-width="6.8"/>
<path d="M630 279.5Q642 279.5 642 291.5V382Q642 397 657 397H672" fill="none" stroke="url(#gLineR)" stroke-width="6.8"/>
<path d="M394 279.5H502.5" stroke="#8d8d8d" stroke-width="6.8"/>
<path d="M522 279.5H630" stroke="#8d8d8d" stroke-width="6.8"/>
<rect x="508" y="252" width="9" height="55.6" rx="4.5" fill="#8c8c8c"/>

<!-- X marks -->
<g stroke-linecap="butt">
<path d="M366.5 205L399 237.5M399 205L366.5 237.5" stroke="#ffffff" stroke-width="12"/>
<path d="M366.5 205L399 237.5M399 205L366.5 237.5" stroke="#cc1f2b" stroke-width="8.3"/>
<path d="M625.5 205L658 237.5M658 205L625.5 237.5" stroke="#ffffff" stroke-width="12"/>
<path d="M625.5 205L658 237.5M658 205L625.5 237.5" stroke="#cc1f2b" stroke-width="8.3"/>
</g>


<g id="inflam">
  <ellipse cx="214" cy="345" rx="86" ry="100" fill="url(#gGlowBig)"/>
  <ellipse cx="219" cy="264" rx="68" ry="70" fill="url(#gGlowFlame)"/>
  <ellipse cx="214" cy="340" rx="64" ry="50" fill="url(#gGlowCore)"/>
  <path d="M202.2 239.9C201.7 239.7 198.9 242.6 197.7 244.9C196.5 247.2 195.0 250.6 194.8 253.5C194.6 256.4 195.2 259.2 196.3 262.1C197.4 265.0 199.9 268.1 201.3 270.7C202.7 273.3 204.7 275.6 204.9 277.8C205.1 280.0 203.4 282.3 202.7 283.6C202.0 284.9 199.8 286.0 200.7 285.5C201.6 285.0 206.8 282.9 208.1 280.7C209.4 278.5 209.3 275.0 208.8 272.1C208.3 269.2 206.4 266.4 205.2 263.5C204.0 260.6 202.3 257.8 201.6 254.9C200.9 252.0 200.8 248.8 200.9 246.3C201.0 243.8 202.7 240.1 202.2 239.9Z" fill="url(#gFlame)"/>
  <path d="M219.4 228.4C218.7 227.5 214.8 232.2 213.2 234.9C211.6 237.7 210.3 241.8 209.7 244.9C209.1 248.0 208.9 250.6 209.4 253.5C209.9 256.4 211.0 259.2 212.5 262.1C214.0 265.0 216.8 267.8 218.3 270.7C219.8 273.6 221.1 276.4 221.4 279.3C221.8 282.2 220.9 285.2 220.4 287.9C219.9 290.6 217.6 295.3 218.6 295.5C219.6 295.7 224.4 292.0 226.2 289.3C227.9 286.6 228.9 282.7 229.1 279.3C229.3 275.9 228.8 272.6 227.6 269.2C226.4 265.8 223.5 262.3 221.9 259.2C220.3 256.1 219.0 253.7 218.3 250.6C217.6 247.5 217.4 244.3 217.6 240.6C217.8 236.9 220.1 229.3 219.4 228.4Z" fill="url(#gFlame)"/>
  <path d="M237.3 239.9C236.8 239.7 234.0 242.6 232.8 244.9C231.6 247.2 230.4 250.6 230.2 253.5C229.9 256.4 230.3 259.2 231.3 262.1C232.3 265.0 235.1 268.1 236.4 270.7C237.7 273.3 239.0 275.6 239.2 277.8C239.4 280.0 238.4 282.3 237.8 283.6C237.2 284.9 234.9 286.0 235.8 285.5C236.7 285.0 241.9 282.9 243.2 280.7C244.6 278.5 244.4 275.0 243.9 272.1C243.4 269.2 241.5 266.4 240.3 263.5C239.1 260.6 237.4 257.8 236.7 254.9C236.0 252.0 235.9 248.8 236.0 246.3C236.1 243.8 237.8 240.1 237.3 239.9Z" fill="url(#gFlame)"/>
  <path d="M82.2 380.9Q101.5 382 120.8 389.3" fill="none" stroke="#8c1c1c" stroke-width="2.3" stroke-linecap="round"/>
  <path d="M83.6 360.8C80.9 359.8 84.7 357.6 85.8 355.8C86.9 354.0 88.8 349.5 91.5 347.2C94.2 344.9 102.4 340.4 105.8 338.6C109.2 336.8 113.5 334.4 117.3 333.6C121.1 332.8 129.2 332.5 134.4 332.6C139.6 332.7 152.2 334.6 156.0 334.3C159.8 334.0 159.6 332.4 163.0 330.7C166.4 329.0 176.2 323.8 181.7 321.4C187.2 319.0 199.4 314.2 204.0 312.8C208.6 311.4 211.2 310.9 216.0 311.0C220.8 311.1 234.5 312.4 240.0 313.6C245.5 314.8 252.9 318.2 257.2 320.0C261.5 321.8 268.2 326.4 272.2 327.2C276.2 328.0 283.0 325.8 287.3 325.8C291.6 325.8 299.2 326.5 304.4 327.2C309.6 327.9 320.7 330.4 326.0 330.8C331.3 331.2 341.6 329.5 344.5 330.0C347.4 330.5 346.3 333.0 347.4 334.4C348.5 335.8 355.0 339.3 353.1 340.8C351.2 342.3 338.9 344.6 333.0 345.8C327.1 347.0 314.4 349.6 308.7 350.0C303.0 350.4 295.3 349.6 290.0 348.7C284.7 347.8 273.4 343.8 268.6 343.0C263.8 342.2 257.5 342.4 254.3 343.0C251.1 343.6 249.8 346.6 244.3 347.3C238.8 348.0 222.3 346.9 213.0 348.0C203.7 349.1 181.2 355.2 174.5 355.8C167.8 356.4 166.4 352.4 163.0 352.2C159.6 352.0 153.6 353.2 148.8 354.4C144.0 355.6 133.0 360.4 127.3 361.5C121.6 362.6 111.6 363.1 105.8 363.0C100.0 362.9 86.3 361.8 83.6 360.8Z" fill="url(#gSheet)"/>
  <path d="M105.8 338.6C109.2 336.8 113.5 334.4 117.3 333.6C121.1 332.8 129.2 332.5 134.4 332.6C139.6 332.7 152.2 334.6 156.0 334.3C159.8 334.0 159.6 332.4 163.0 330.7C166.4 329.0 176.2 323.8 181.7 321.4C187.2 319.0 199.4 314.2 204.0 312.8C208.6 311.4 211.2 310.9 216.0 311.0C220.8 311.1 234.5 312.4 240.0 313.6C245.5 314.8 252.9 318.2 257.2 320.0C261.5 321.8 268.2 326.4 272.2 327.2C276.2 328.0 283.0 325.8 287.3 325.8C291.6 325.8 299.2 326.5 304.4 327.2C309.6 327.9 320.7 330.4 326.0 330.8C331.3 331.2 341.6 329.5 344.5 330.0C347.4 330.5 346.3 333.0 347.4 334.4C348.5 335.8 355.0 339.3 353.1 340.8C351.2 342.3 338.9 344.6 333.0 345.8C327.1 347.0 314.4 349.6 308.7 350.0C303.0 350.4 295.3 349.6 290.0 348.7C284.7 347.8 273.4 343.8 268.6 343.0C263.8 342.2 257.5 342.4 254.3 343.0C251.1 343.6 249.8 346.6 244.3 347.3C238.8 348.0 222.3 346.9 213.0 348.0C203.7 349.1 181.2 355.2 174.5 355.8C167.8 356.4 166.4 352.4 163.0 352.2C159.6 352.0 153.6 353.2 148.8 354.4C144.0 355.6 133.0 360.4 127.3 361.5C121.6 362.6 111.6 363.1 105.8 363.0C100.0 362.9 86.3 361.8 83.6 360.8" fill="none" stroke="#8c1c1c" stroke-width="2.2" stroke-linejoin="round"/>
  <path d="M105.8 338.6C107.8 336.9 113.5 334.4 117.3 333.6C121.1 332.8 129.2 332.5 134.4 332.6C139.6 332.7 154.7 333.3 156.0 334.3C157.3 335.3 148.3 338.4 144.5 340.0C140.7 341.6 131.6 345.4 127.3 346.5C123.0 347.6 115.6 348.7 112.2 348.6C108.8 348.5 102.9 347.3 102.0 346.0C101.1 344.7 103.8 340.3 105.8 338.6Z" fill="#f08856"/>
  <path d="M105.8 338.6C107.7 337.8 112.5 334.6 117.3 333.6C122.1 332.6 128.0 332.5 134.4 332.6C140.8 332.7 152.4 334.0 156.0 334.3" fill="none" stroke="#8c1c1c" stroke-width="2.2" stroke-linecap="round"/>
  <path d="M112.2 348.6C114.7 348.2 121.9 347.9 127.3 346.5C132.7 345.1 138.6 342.6 144.5 340.0C150.4 337.4 157.9 333.4 163.0 330.7C168.1 328.0 173.0 325.1 175.0 324.0" fill="none" stroke="#8c1c1c" stroke-width="2.2" stroke-linecap="round"/>
  <path d="M257.2 320.0C259.6 321.4 267.2 326.0 271.5 328.6C275.8 331.2 278.8 333.7 283.0 335.8C287.2 337.9 294.3 340.6 296.6 341.5" fill="none" stroke="#8c1c1c" stroke-width="2.2" stroke-linecap="round"/>
  <path d="M196 323.6Q216 318 238.7 324.5" fill="none" stroke="#f6a29a" stroke-width="2.6" stroke-linecap="round" opacity="0.85"/>
  <path d="M79.3 368.0C79.1 366.5 79.8 361.4 82.9 360.8C86.0 360.2 100.6 362.9 105.8 363.0C111.0 363.1 122.3 362.5 127.3 361.5C132.3 360.5 144.6 355.5 148.8 354.4C153.0 353.3 159.8 352.0 163.0 352.2C166.2 352.4 174.0 353.5 176.0 355.8C178.0 358.1 180.0 368.4 180.0 372.0C180.0 375.6 179.6 385.2 176.0 386.6C172.4 388.0 154.5 385.3 148.8 384.4C143.1 383.5 132.3 379.8 127.3 378.7C122.3 377.6 110.8 375.7 105.8 375.1C100.8 374.5 87.4 374.5 84.3 373.7C81.2 372.9 79.5 369.5 79.3 368.0Z" fill="url(#gElongL)" stroke="#8c1c1c" stroke-width="2.2" stroke-linejoin="round"/>
  <ellipse cx="153.8" cy="369.4" rx="9.3" ry="6.6" fill="#c1211f"/>
  <path d="M244.3 347.3C245.3 344.2 251.5 343.5 254.3 343.0C257.1 342.5 264.4 342.3 268.6 343.0C272.8 343.7 285.3 347.9 290.0 348.7C294.7 349.5 303.7 350.3 308.7 350.0C313.7 349.7 327.8 346.9 333.0 345.8C338.2 344.7 351.1 340.4 353.1 340.8C355.1 341.2 353.5 347.5 350.3 349.4C347.1 351.3 331.4 355.9 326.0 357.3C320.6 358.7 308.9 360.4 304.4 361.6C299.9 362.8 291.1 365.8 287.3 367.3C283.5 368.8 275.4 373.3 271.5 374.5C267.6 375.7 257.3 378.5 254.3 378.0C251.3 377.5 247.2 373.6 246.0 370.0C244.8 366.4 243.3 350.4 244.3 347.3Z" fill="url(#gElongR)" stroke="#8c1c1c" stroke-width="2.2" stroke-linejoin="round"/>
  <ellipse cx="267.6" cy="361" rx="9" ry="7" fill="#c1211f"/>
  <ellipse cx="213.2" cy="368.8" rx="38.9" ry="28.2" fill="url(#gBigCell)" stroke="#8c1c1c" stroke-width="2.3"/>
  <ellipse cx="214.5" cy="368.3" rx="12.5" ry="9.8" fill="#c5261f"/>
  <ellipse cx="154" cy="408.3" rx="25.8" ry="17" fill="#f37d47" stroke="#8c1c1c" stroke-width="2.3"/>
  <ellipse cx="156.7" cy="408" rx="10.8" ry="8.1" fill="#dd4126"/>
  <ellipse cx="262.5" cy="405.5" rx="29.5" ry="19.5" transform="rotate(-17 262.5 405.5)" fill="#f37d47" stroke="#8c1c1c" stroke-width="2.3"/>
  <ellipse cx="263.8" cy="405.7" rx="12" ry="8.9" transform="rotate(-12 263.8 405.7)" fill="#dd4126"/>
  <path d="M291.5 376.0C292.9 371.2 294.8 368.6 297.0 367.0C299.2 365.4 300.3 363.9 306.0 365.0C311.7 366.1 329.4 371.6 335.0 374.5C340.6 377.4 342.6 378.7 343.5 384.0C344.4 389.3 342.9 404.7 341.0 410.0C339.1 415.3 334.1 418.1 331.0 419.5C327.9 420.9 325.4 420.6 320.0 419.0C314.6 417.4 299.8 412.0 295.0 409.0C290.2 406.0 288.5 403.9 288.0 399.0C287.5 394.1 290.1 380.8 291.5 376.0Z" fill="#f37d47" stroke="#8c1c1c" stroke-width="2.3" stroke-linejoin="round"/>
  <ellipse cx="315.2" cy="395.5" rx="11.4" ry="9.1" transform="rotate(12 315.2 395.5)" fill="#dd4126"/>
  <ellipse cx="214" cy="326" rx="64" ry="44" fill="url(#gRedOver)" style="mix-blend-mode:multiply"/>
</g>


<!-- right illustration -->
<path d="M699.3 291.3L698.0 338.3Q698.0 342.3 702.0 342.3L732.0 342.3Q736.0 342.3 736.0 338.3L734.7 291.3L734.7 278.8A1.8 1.8 0 0 0 731.0 278.8L731.0 290.0A1.3 1.3 0 0 1 728.3 290.0L728.3 278.8A1.8 1.8 0 0 0 724.7 278.8L724.7 290.0A1.3 1.3 0 0 1 722.0 290.0L722.0 278.8A1.8 1.8 0 0 0 718.3 278.8L718.3 290.0A1.3 1.3 0 0 1 715.7 290.0L715.7 278.8A1.8 1.8 0 0 0 712.0 278.8L712.0 290.0A1.3 1.3 0 0 1 709.3 290.0L709.3 278.8A1.8 1.8 0 0 0 705.7 278.8L705.7 290.0A1.3 1.3 0 0 1 703.0 290.0L703.0 278.8A1.8 1.8 0 0 0 699.3 278.8L699.3 291.3Z" fill="url(#gCell)" stroke="#176b45" stroke-width="1.8" stroke-linejoin="round"/>
<ellipse cx="717.7" cy="323.5" rx="8.4" ry="9.8" fill="#137050"/>
<path d="M738.3 289.5L737.0 337.4Q737.0 341.4 741.0 341.4L771.0 341.4Q775.0 341.4 775.0 337.4L773.7 289.5L773.7 277.0A1.8 1.8 0 0 0 770.0 277.0L770.0 288.2A1.3 1.3 0 0 1 767.3 288.2L767.3 277.0A1.8 1.8 0 0 0 763.7 277.0L763.7 288.2A1.3 1.3 0 0 1 761.0 288.2L761.0 277.0A1.8 1.8 0 0 0 757.3 277.0L757.3 288.2A1.3 1.3 0 0 1 754.7 288.2L754.7 277.0A1.8 1.8 0 0 0 751.0 277.0L751.0 288.2A1.3 1.3 0 0 1 748.3 288.2L748.3 277.0A1.8 1.8 0 0 0 744.7 277.0L744.7 288.2A1.3 1.3 0 0 1 742.0 288.2L742.0 277.0A1.8 1.8 0 0 0 738.3 277.0L738.3 289.5Z" fill="url(#gCell)" stroke="#176b45" stroke-width="1.8" stroke-linejoin="round"/>
<ellipse cx="756.2" cy="321.7" rx="8.4" ry="9.8" fill="#137050"/>
<path d="M776.8 291.0L775.5 340.0Q775.5 344.0 779.5 344.0L809.0 344.0Q813.0 344.0 813.0 340.0L811.7 291.0L811.7 278.8A1.8 1.8 0 0 0 808.1 278.8L808.1 289.7A1.3 1.3 0 0 1 805.4 289.7L805.4 278.8A1.8 1.8 0 0 0 801.8 278.8L801.8 289.7A1.3 1.3 0 0 1 799.2 289.7L799.2 278.8A1.8 1.8 0 0 0 795.6 278.8L795.6 289.7A1.3 1.3 0 0 1 792.9 289.7L792.9 278.8A1.8 1.8 0 0 0 789.3 278.8L789.3 289.7A1.3 1.3 0 0 1 786.7 289.7L786.7 278.8A1.8 1.8 0 0 0 783.1 278.8L783.1 289.7A1.3 1.3 0 0 1 780.4 289.7L780.4 278.8A1.8 1.8 0 0 0 776.8 278.8L776.8 291.0Z" fill="url(#gCell)" stroke="#176b45" stroke-width="1.8" stroke-linejoin="round"/>
<ellipse cx="793.7" cy="325.3" rx="8.4" ry="9.8" fill="#137050"/>
<path d="M814.5 296.0L813.0 345.0Q813.0 349.0 817.0 349.0L823.7 349.0Q827.7 349.0 827.7 345.0L826.2 296.0L826.2 288.1A2.1 2.1 0 0 0 821.9 288.1L821.9 294.5A1.5 1.5 0 0 1 818.8 294.5L818.8 288.1A2.1 2.1 0 0 0 814.5 288.1L814.5 296.0Z" fill="url(#gCell)" stroke="#176b45" stroke-width="1.8" stroke-linejoin="round"/>
<ellipse cx="820.6" cy="327.3" rx="3.5" ry="8.0" fill="#137050"/>
<path d="M829.1 301.3L827.7 350.1Q827.7 354.1 831.7 354.1L862.5 354.1Q866.5 354.1 866.5 350.1L865.1 301.3L865.1 292.5A1.9 1.9 0 0 0 861.4 292.5L861.4 299.9A1.4 1.4 0 0 1 858.7 299.9L858.7 292.5A1.9 1.9 0 0 0 854.9 292.5L854.9 299.9A1.4 1.4 0 0 1 852.2 299.9L852.2 292.5A1.9 1.9 0 0 0 848.5 292.5L848.5 299.9A1.4 1.4 0 0 1 845.7 299.9L845.7 292.5A1.9 1.9 0 0 0 842.0 292.5L842.0 299.9A1.4 1.4 0 0 1 839.3 299.9L839.3 292.5A1.9 1.9 0 0 0 835.5 292.5L835.5 299.9A1.4 1.4 0 0 1 832.8 299.9L832.8 292.5A1.9 1.9 0 0 0 829.1 292.5L829.1 301.3Z" fill="url(#gCell)" stroke="#176b45" stroke-width="1.8" stroke-linejoin="round"/>
<ellipse cx="847.4" cy="335.3" rx="8.4" ry="9.8" fill="#137050"/>
<path d="M867.9 304.9L866.5 354.6Q866.5 358.6 870.5 358.6L901.6 358.6Q905.6 358.6 905.6 354.6L904.2 304.9L904.2 295.2A1.9 1.9 0 0 0 900.5 295.2L900.5 303.5A1.4 1.4 0 0 1 897.7 303.5L897.7 295.2A1.9 1.9 0 0 0 893.9 295.2L893.9 303.5A1.4 1.4 0 0 1 891.2 303.5L891.2 295.2A1.9 1.9 0 0 0 887.4 295.2L887.4 303.5A1.4 1.4 0 0 1 884.7 303.5L884.7 295.2A1.9 1.9 0 0 0 880.9 295.2L880.9 303.5A1.4 1.4 0 0 1 878.2 303.5L878.2 295.2A1.9 1.9 0 0 0 874.4 295.2L874.4 303.5A1.4 1.4 0 0 1 871.6 303.5L871.6 295.2A1.9 1.9 0 0 0 867.9 295.2L867.9 304.9Z" fill="url(#gCell)" stroke="#176b45" stroke-width="1.8" stroke-linejoin="round"/>
<ellipse cx="885.0" cy="338.0" rx="8.4" ry="9.8" fill="#137050"/>
<path d="M906.9 305.8L905.6 354.6Q905.6 358.6 909.6 358.6L940.0 358.6Q944.0 358.6 944.0 354.6L942.7 305.8L942.7 295.2A1.9 1.9 0 0 0 938.9 295.2L938.9 304.5A1.3 1.3 0 0 1 936.3 304.5L936.3 295.2A1.9 1.9 0 0 0 932.5 295.2L932.5 304.5A1.3 1.3 0 0 1 929.9 304.5L929.9 295.2A1.9 1.9 0 0 0 926.1 295.2L926.1 304.5A1.3 1.3 0 0 1 923.5 304.5L923.5 295.2A1.9 1.9 0 0 0 919.7 295.2L919.7 304.5A1.3 1.3 0 0 1 917.1 304.5L917.1 295.2A1.9 1.9 0 0 0 913.3 295.2L913.3 304.5A1.3 1.3 0 0 1 910.7 304.5L910.7 295.2A1.9 1.9 0 0 0 906.9 295.2L906.9 305.8Z" fill="url(#gCell)" stroke="#176b45" stroke-width="1.8" stroke-linejoin="round"/>
<ellipse cx="924.4" cy="339.8" rx="8.4" ry="9.8" fill="#137050"/>

<path d="M698.0 364.1C709.3 363.5 746.2 359.5 766.0 360.3C785.8 361.1 800.0 366.3 817.0 369.2C834.0 372.1 852.5 376.3 868.0 377.5C883.5 378.7 897.3 377.2 910.0 376.5C922.7 375.8 938.6 373.6 944.3 373.0L944.3 422.5C935.8 422.2 910.2 422.3 893.2 421.0C876.2 419.7 859.3 417.4 842.4 414.5C825.5 411.6 808.5 406.0 791.6 403.5C774.7 401.0 756.4 400.6 740.8 399.7C725.2 398.8 705.1 398.3 698.0 398.0Z" fill="#f7d5d1"/>
<path d="M698.0 352.7C709.3 352.1 746.2 348.1 766.0 348.9C785.8 349.7 800.0 355.0 817.0 357.5C834.0 360.0 852.5 362.9 868.0 364.1C883.5 365.3 897.3 364.7 910.0 364.5C922.7 364.3 938.6 363.2 944.3 362.9L944.3 373.0C938.6 373.6 922.7 375.8 910.0 376.5C897.3 377.2 883.5 378.7 868.0 377.5C852.5 376.3 834.0 372.1 817.0 369.2C800.0 366.3 785.8 361.1 766.0 360.3C746.2 359.5 709.3 363.5 698.0 364.1Z" fill="#e9746d" stroke="#b01f29" stroke-width="2.1" stroke-linejoin="round"/>
<path d="M698.0 398.0C705.1 398.3 725.2 398.8 740.8 399.7C756.4 400.6 774.7 401.0 791.6 403.5C808.5 406.0 825.5 411.6 842.4 414.5C859.3 417.4 876.2 419.7 893.2 421.0C910.2 422.3 935.8 422.2 944.3 422.5L944.3 432.7C935.8 432.5 910.2 432.5 893.2 431.4C876.2 430.3 859.3 428.9 842.4 426.3C825.5 423.7 808.5 418.4 791.6 416.0C774.7 413.6 756.4 413.2 740.8 412.2C725.2 411.2 705.1 410.4 698.0 410.0Z" fill="#e9746d" stroke="#b01f29" stroke-width="2.1" stroke-linejoin="round"/>

<g transform="translate(795.5 388.3) rotate(-8)"><ellipse rx="11.6" ry="7.2" fill="#f47a44" stroke="#a01a22" stroke-width="2.3"/><path d="M-6.4 0.4Q0 4.7 7.0 -1.4" fill="none" stroke="#a81e24" stroke-width="1.9" stroke-linecap="round"/></g>
<g transform="translate(826.0 384.6) rotate(38)"><ellipse rx="12" ry="7.5" fill="#f47a44" stroke="#a01a22" stroke-width="2.3"/><path d="M-6.6 0.4Q0 4.9 7.2 -1.5" fill="none" stroke="#a81e24" stroke-width="1.9" stroke-linecap="round"/></g>
<g transform="translate(896.9 395.4) rotate(-20)"><ellipse rx="12.5" ry="7.5" fill="#f47a44" stroke="#a01a22" stroke-width="2.3"/><path d="M-6.9 0.4Q0 4.9 7.5 -1.5" fill="none" stroke="#a81e24" stroke-width="1.9" stroke-linecap="round"/></g>
<g transform="translate(925.5 406.2) rotate(-30)"><ellipse rx="12" ry="8" fill="#f47a44" stroke="#a01a22" stroke-width="2.3"/><path d="M-6.6 0.4Q0 5.2 7.2 -1.6" fill="none" stroke="#a81e24" stroke-width="1.9" stroke-linecap="round"/></g>
<g>
<path d="M763.4 372.2Q766.0 369.8 764.2 366.9" fill="none" stroke="#1b7a4c" stroke-width="5.6" stroke-linecap="round"/>
<path d="M768.7 372.9Q774.0 372.9 777.4 368.8" fill="none" stroke="#1b7a4c" stroke-width="5.6" stroke-linecap="round"/>
<path d="M767.4 379.0Q769.4 383.3 774.0 384.0" fill="none" stroke="#1b7a4c" stroke-width="5.6" stroke-linecap="round"/>
<path d="M758.5 380.1Q753.7 381.8 752.0 386.6" fill="none" stroke="#1b7a4c" stroke-width="5.6" stroke-linecap="round"/>
<path d="M757.0 374.5Q753.0 371.5 748.1 372.8" fill="none" stroke="#1b7a4c" stroke-width="5.6" stroke-linecap="round"/>
<ellipse cx="762.9" cy="375.7" rx="10.4" ry="8.5" fill="#1b7a4c"/>
<path d="M763.4 372.2Q766.0 369.8 764.2 366.9" fill="none" stroke="#5ab58a" stroke-width="2.4" stroke-linecap="round"/>
<path d="M768.7 372.9Q774.0 372.9 777.4 368.8" fill="none" stroke="#5ab58a" stroke-width="2.4" stroke-linecap="round"/>
<path d="M767.4 379.0Q769.4 383.3 774.0 384.0" fill="none" stroke="#5ab58a" stroke-width="2.4" stroke-linecap="round"/>
<path d="M758.5 380.1Q753.7 381.8 752.0 386.6" fill="none" stroke="#5ab58a" stroke-width="2.4" stroke-linecap="round"/>
<path d="M757.0 374.5Q753.0 371.5 748.1 372.8" fill="none" stroke="#5ab58a" stroke-width="2.4" stroke-linecap="round"/>
<ellipse cx="762.9" cy="375.7" rx="8.7" ry="6.8" fill="#5ab58a"/>
</g>
<g>
<path d="M857.8 399.5Q857.1 395.1 852.9 393.6" fill="none" stroke="#1b7a4c" stroke-width="5.6" stroke-linecap="round"/>
<path d="M865.7 400.2Q870.4 399.5 872.6 395.2" fill="none" stroke="#1b7a4c" stroke-width="5.6" stroke-linecap="round"/>
<path d="M867.0 405.5Q870.8 409.0 875.9 408.4" fill="none" stroke="#1b7a4c" stroke-width="5.6" stroke-linecap="round"/>
<path d="M863.4 407.8Q863.2 412.0 866.9 414.2" fill="none" stroke="#1b7a4c" stroke-width="5.6" stroke-linecap="round"/>
<path d="M855.2 405.2Q850.1 404.3 846.3 407.6" fill="none" stroke="#1b7a4c" stroke-width="5.6" stroke-linecap="round"/>
<ellipse cx="861.1" cy="403.5" rx="10.4" ry="8.5" fill="#1b7a4c"/>
<path d="M857.8 399.5Q857.1 395.1 852.9 393.6" fill="none" stroke="#5ab58a" stroke-width="2.4" stroke-linecap="round"/>
<path d="M865.7 400.2Q870.4 399.5 872.6 395.2" fill="none" stroke="#5ab58a" stroke-width="2.4" stroke-linecap="round"/>
<path d="M867.0 405.5Q870.8 409.0 875.9 408.4" fill="none" stroke="#5ab58a" stroke-width="2.4" stroke-linecap="round"/>
<path d="M863.4 407.8Q863.2 412.0 866.9 414.2" fill="none" stroke="#5ab58a" stroke-width="2.4" stroke-linecap="round"/>
<path d="M855.2 405.2Q850.1 404.3 846.3 407.6" fill="none" stroke="#5ab58a" stroke-width="2.4" stroke-linecap="round"/>
<ellipse cx="861.1" cy="403.5" rx="8.7" ry="6.8" fill="#5ab58a"/>
</g>

<clipPath id="s1L"><rect x="0" y="0" width="812.6" height="559"/></clipPath>
<path d="M812.6 221.7Q794.6 233.7 775.3 235.7Q771.6 236.7 771.6 240.4L771.6 271.8C771.6 297.9 794.6 311.9 812.6 321.9C830.6 311.9 853.6 297.9 853.6 271.8L853.6 240.4Q853.6 236.7 849.9 235.7Q830.6 233.7 812.6 221.7Z" fill="#0c6a47" stroke="#ffffff" stroke-width="4" stroke-linejoin="round"/>
<path d="M812.6 221.7Q794.6 233.7 775.3 235.7Q771.6 236.7 771.6 240.4L771.6 271.8C771.6 297.9 794.6 311.9 812.6 321.9C830.6 311.9 853.6 297.9 853.6 271.8L853.6 240.4Q853.6 236.7 849.9 235.7Q830.6 233.7 812.6 221.7Z" fill="#1a875b" clip-path="url(#s1L)"/>
<path d="M812.6 221.7Q794.6 233.7 775.3 235.7Q771.6 236.7 771.6 240.4L771.6 271.8C771.6 297.9 794.6 311.9 812.6 321.9C830.6 311.9 853.6 297.9 853.6 271.8L853.6 240.4Q853.6 236.7 849.9 235.7Q830.6 233.7 812.6 221.7Z" fill="none" stroke="#fbfefc" stroke-width="4" stroke-linejoin="round"/>
<path d="M795.1 268.7L808.1 281.2L832.1 256.7" fill="none" stroke="#ffffff" stroke-width="7.0" stroke-linecap="butt" stroke-linejoin="miter"/>


<clipPath id="s2L"><rect x="0" y="0" width="709.5" height="559"/></clipPath>
<path d="M709.5 368.2Q696.8 376.3 683.2 377.7Q680.6 378.3 680.6 380.9L680.6 402.0C680.6 419.6 696.8 429.0 709.5 435.8C722.2 429.0 738.4 419.6 738.4 402.0L738.4 380.9Q738.4 378.3 735.8 377.7Q722.2 376.3 709.5 368.2Z" fill="#0c6a47" stroke="#ffffff" stroke-width="3.2" stroke-linejoin="round"/>
<path d="M709.5 368.2Q696.8 376.3 683.2 377.7Q680.6 378.3 680.6 380.9L680.6 402.0C680.6 419.6 696.8 429.0 709.5 435.8C722.2 429.0 738.4 419.6 738.4 402.0L738.4 380.9Q738.4 378.3 735.8 377.7Q722.2 376.3 709.5 368.2Z" fill="#1a875b" clip-path="url(#s2L)"/>
<path d="M709.5 368.2Q696.8 376.3 683.2 377.7Q680.6 378.3 680.6 380.9L680.6 402.0C680.6 419.6 696.8 429.0 709.5 435.8C722.2 429.0 738.4 419.6 738.4 402.0L738.4 380.9Q738.4 378.3 735.8 377.7Q722.2 376.3 709.5 368.2Z" fill="none" stroke="#fbfefc" stroke-width="3.2" stroke-linejoin="round"/>
<path d="M697.1 401.4L706.3 410.3L723.3 392.9" fill="none" stroke="#ffffff" stroke-width="5.0" stroke-linecap="butt" stroke-linejoin="miter"/>


</svg>
</body></html>
